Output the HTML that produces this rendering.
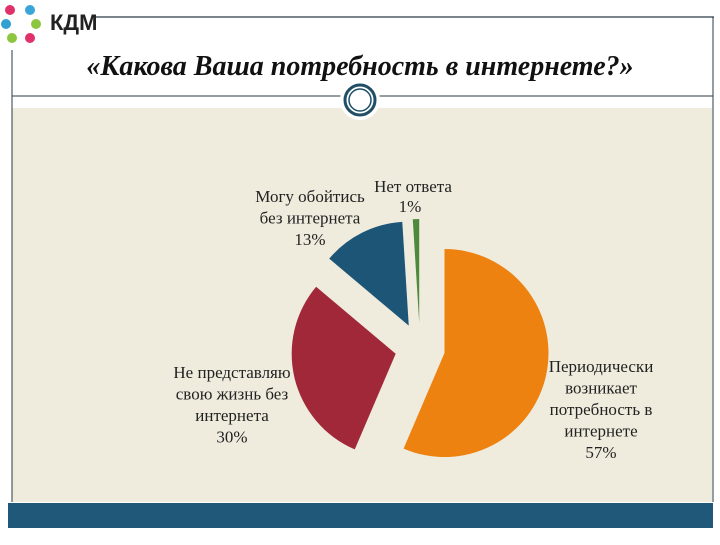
<!DOCTYPE html>
<html><head><meta charset="utf-8"><style>
body{margin:0;width:720px;height:540px;background:#fff;overflow:hidden;font-family:"Liberation Serif",serif}
</style></head><body>
<svg width="720" height="540" viewBox="0 0 720 540">
<rect x="12" y="108" width="700" height="394" fill="#efebdd"/>
<rect x="8" y="503" width="705" height="25" fill="#1f5878"/>
<line x1="95" y1="17" x2="714" y2="17" stroke="#2b3a44" stroke-width="1.2"/>
<line x1="713" y1="17" x2="713" y2="502" stroke="#2b3a44" stroke-width="1"/>
<line x1="12" y1="50" x2="12" y2="502" stroke="#2b3a44" stroke-width="1"/>
<line x1="12" y1="96" x2="713" y2="96" stroke="#2b3a44" stroke-width="1"/>
<g>
<circle cx="360" cy="100" r="20" fill="#fff"/>
<circle cx="360" cy="100" r="15" fill="none" stroke="#1f4e66" stroke-width="3"/>
<circle cx="360" cy="100" r="11" fill="none" stroke="#1f4e66" stroke-width="1.5"/>
</g>
<g>
<circle cx="10" cy="10" r="5" fill="#e0316b"/><circle cx="30" cy="10" r="5" fill="#3aa5d8"/>
<circle cx="6" cy="24" r="5" fill="#2fa0d0"/><circle cx="36" cy="24" r="5" fill="#8cc63f"/>
<circle cx="12" cy="38" r="5" fill="#8cc63f"/><circle cx="30" cy="38" r="5" fill="#e0316b"/>
<circle cx="21" cy="24" r="6" fill="#fff"/>
<text x="50" y="30" font-family="Liberation Sans,sans-serif" font-size="22" font-weight="bold" fill="#222">КДМ</text>
</g>
<text x="360" y="75" text-anchor="middle" font-size="28" font-style="italic" font-weight="bold" fill="#111">«Какова Ваша потребность в интернете?»</text>
<g id="labels" font-size="17" fill="#222" text-anchor="middle"></g>
<g id="pie"></g>
</svg>
<script>
const categories=["Периодически возникает потребность в интернете","Не представляю свою жизнь без интернета","Могу обойтись без интернета","Нет ответа"];
const values=[57,30,13,1];
const valueLabels=["57%","30%","13%","1%"];
const colors=["#ee8210","#a02838","#1d5577","#4e8a3c"];
const names=["slice-periodic","slice-cannot-live-without","slice-can-do-without","slice-no-answer"];
const NS="http://www.w3.org/2000/svg";
const cx=420,cy=348,r=104,ex=25;
const total=values.reduce((a,b)=>a+b,0);
const pie=document.getElementById('pie');
let a0=0;
values.forEach((v,i)=>{
  const a1=a0+v/total*2*Math.PI,am=(a0+a1)/2;
  const ox=cx+ex*Math.sin(am),oy=cy-ex*Math.cos(am);
  const x0=ox+r*Math.sin(a0),y0=oy-r*Math.cos(a0),x1=ox+r*Math.sin(a1),y1=oy-r*Math.cos(a1);
  const p=document.createElementNS(NS,'path');
  p.setAttribute('d',`M${ox},${oy}L${x0},${y0}A${r},${r} 0 ${a1-a0>Math.PI?1:0} 1 ${x1},${y1}Z`);
  p.setAttribute('fill',colors[i]);
  
  
  pie.appendChild(p);
  a0=a1;
});
const labelLines=[["Периодически","возникает","потребность в","интернете"],["Не представляю","свою жизнь без","интернета"],["Могу обойтись","без интернета"],["Нет ответа"]];
const labelPos=[[601,372],[232,378],[310,202],[413,192]];
const lg=document.getElementById('labels');
labelLines.forEach((ls,i)=>{
  const t=document.createElementNS(NS,'text');
  
  
  const all=ls.concat(i===3?[]:[valueLabels[i]]);
  all.forEach((s,j)=>{
    const sp=document.createElementNS(NS,'tspan');
    sp.setAttribute('x',labelPos[i][0]);sp.setAttribute('y',labelPos[i][1]+j*21.5);
    sp.textContent=s;t.appendChild(sp);
  });
  lg.appendChild(t);
});
const t1=document.createElementNS(NS,'text');


t1.setAttribute('x',410);t1.setAttribute('y',212);t1.textContent=valueLabels[3];
lg.appendChild(t1);
</script>
</body></html>
